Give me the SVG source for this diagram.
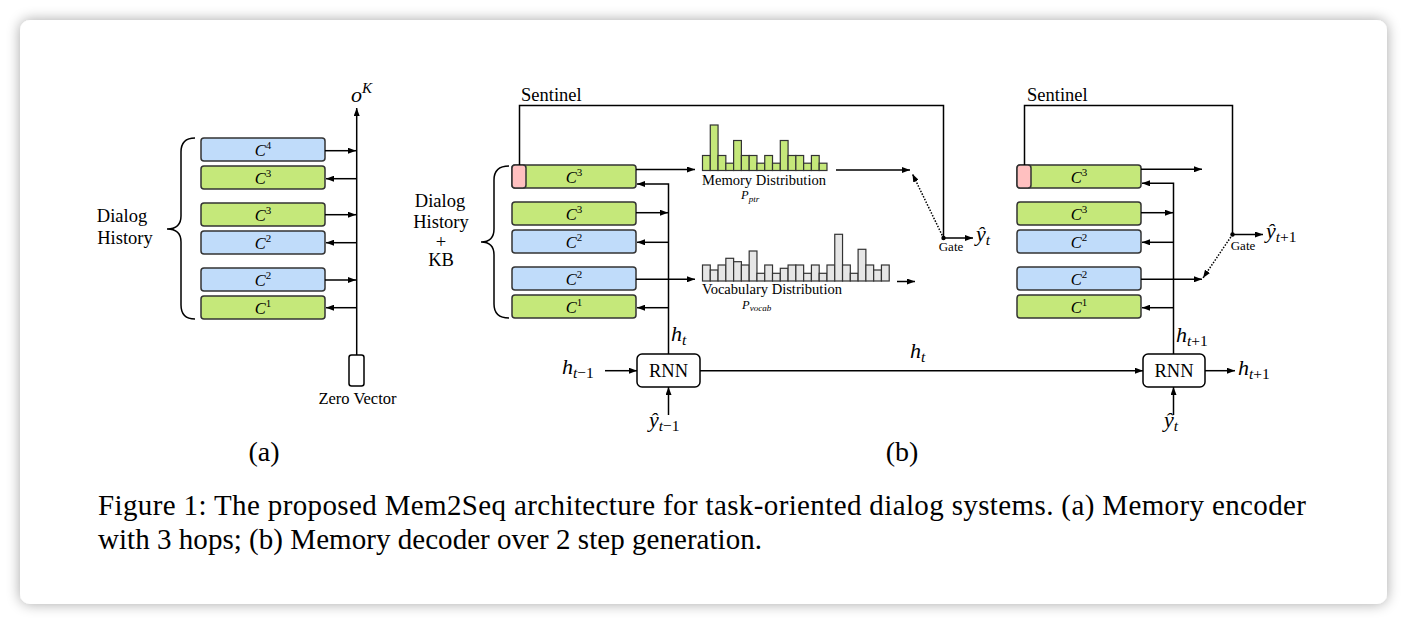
<svg xmlns="http://www.w3.org/2000/svg" width="1408" height="626" viewBox="0 0 1408 626">
<defs>
<filter id="sh" x="-5%" y="-5%" width="110%" height="110%">
<feGaussianBlur in="SourceAlpha" stdDeviation="7"/>
<feComponentTransfer><feFuncA type="linear" slope="0.35"/></feComponentTransfer>
<feMerge><feMergeNode/><feMergeNode in="SourceGraphic"/></feMerge>
</filter>
<marker id="ah" viewBox="0 0 8 6" refX="8" refY="3" markerWidth="8" markerHeight="6" markerUnits="userSpaceOnUse" orient="auto">
<path d="M0,0 L8,3 L0,6 z" fill="#000"/>
</marker>
</defs>
<style>
text{font-family:"Liberation Serif","Times New Roman",serif;fill:#000}
.g{fill:#c5e87a;stroke:#333;stroke-width:1.5}
.b{fill:#c0dcfa;stroke:#333;stroke-width:1.5}
.p{fill:#ffc0c0;stroke:#333;stroke-width:1.5}
.hg{fill:#c5e87a;stroke:#333;stroke-width:1.2}
.hv{fill:#e6e6e6;stroke:#333;stroke-width:1.2}
.ln{fill:none;stroke:#000;stroke-width:1.5}
.ar{fill:none;stroke:#000;stroke-width:1.5;marker-end:url(#ah)}
.dt{fill:none;stroke:#000;stroke-width:1.5;stroke-dasharray:1.5 1.5;marker-end:url(#ah)}
.br{fill:none;stroke:#000;stroke-width:1.5}
.rnn{fill:#fff;stroke:#000;stroke-width:1.5}
.ci{font-style:italic;font-size:16.5px}
.sup{font-style:normal;font-size:11px}
.m{font-style:italic;font-size:22px}
.sub{font-size:15.5px}
.lab{font-size:18.5px}
.cap{font-size:29px}
</style>
<rect x="0" y="0" width="1408" height="626" fill="#fff"/>
<rect x="20" y="20" width="1367" height="584" rx="10" fill="#fff" filter="url(#sh)"/>

<!-- Part (a) -->
<g id="a-boxes">
<g id="a-c4"><rect class="b" x="201" y="138" width="124" height="23" rx="3"/><text class="ci" x="263" y="155.5" text-anchor="middle">C<tspan class="sup" dy="-6.5">4</tspan></text></g>
<g id="a-c3a"><rect class="g" x="201" y="166" width="124" height="23" rx="3"/><text class="ci" x="263" y="183.5" text-anchor="middle">C<tspan class="sup" dy="-6.5">3</tspan></text></g>
<g id="a-c3b"><rect class="g" x="201" y="203" width="124" height="23" rx="3"/><text class="ci" x="263" y="220.5" text-anchor="middle">C<tspan class="sup" dy="-6.5">3</tspan></text></g>
<g id="a-c2a"><rect class="b" x="201" y="231" width="124" height="23" rx="3"/><text class="ci" x="263" y="248.5" text-anchor="middle">C<tspan class="sup" dy="-6.5">2</tspan></text></g>
<g id="a-c2b"><rect class="b" x="201" y="268" width="124" height="23" rx="3"/><text class="ci" x="263" y="285.5" text-anchor="middle">C<tspan class="sup" dy="-6.5">2</tspan></text></g>
<g id="a-c1"><rect class="g" x="201" y="296" width="124" height="23" rx="3"/><text class="ci" x="263" y="313.5" text-anchor="middle">C<tspan class="sup" dy="-6.5">1</tspan></text></g>
</g>
<g id="a-zero"><rect x="349" y="355" width="15" height="31" rx="2.5" fill="#fff" stroke="#000" stroke-width="1.5"/><text x="357.5" y="404" text-anchor="middle" font-size="16.5">Zero Vector</text></g>
<g id="a-history"><path class="br" d="M195,138 Q181,138 181,152 L181,216 Q181,229 167,229 Q181,229 181,242 L181,305 Q181,319 195,319"/><text class="lab" x="122" y="222" text-anchor="middle">Dialog</text><text class="lab" x="125" y="244" text-anchor="middle">History</text></g>
<g id="a-ok"><text class="m" x="351" y="102" font-size="23">o<tspan font-size="15" dy="-9">K</tspan></text></g>
<text x="264" y="461" text-anchor="middle" font-size="28">(a)</text>

<!-- Part (b) left -->
<g id="b1-boxes">
<g id="b1-c3s"><rect class="g" x="512" y="165" width="124" height="23" rx="3"/><rect class="p" x="512" y="165" width="14" height="23" rx="3"/><text class="ci" x="574" y="182.5" text-anchor="middle">C<tspan class="sup" dy="-6.5">3</tspan></text></g>
<g id="b1-c3"><rect class="g" x="512" y="202" width="124" height="23" rx="3"/><text class="ci" x="574" y="219.5" text-anchor="middle">C<tspan class="sup" dy="-6.5">3</tspan></text></g>
<g id="b1-c2a"><rect class="b" x="512" y="230" width="124" height="23" rx="3"/><text class="ci" x="574" y="247.5" text-anchor="middle">C<tspan class="sup" dy="-6.5">2</tspan></text></g>
<g id="b1-c2b"><rect class="b" x="512" y="267" width="124" height="23" rx="3"/><text class="ci" x="574" y="284.5" text-anchor="middle">C<tspan class="sup" dy="-6.5">2</tspan></text></g>
<g id="b1-c1"><rect class="g" x="512" y="295" width="124" height="23" rx="3"/><text class="ci" x="574" y="312.5" text-anchor="middle">C<tspan class="sup" dy="-6.5">1</tspan></text></g>
</g>
<g id="b1-history"><path class="br" d="M509,166 Q494,166 494,180 L494,229 Q494,242 481,242 Q494,242 494,255 L494,304 Q494,318 509,318"/>
<text class="lab" x="440" y="207" text-anchor="middle">Dialog</text><text class="lab" x="441" y="228" text-anchor="middle">History</text><text class="lab" x="441" y="248" text-anchor="middle">+</text><text class="lab" x="441" y="266" text-anchor="middle">KB</text></g>
<text class="lab" x="521" y="101">Sentinel</text>
<g id="b1-rnn"><rect class="rnn" x="637" y="354" width="63" height="33" rx="5"/><text class="lab" x="668.5" y="377" text-anchor="middle">RNN</text></g>

<g id="mem-dist">
<rect class="hg" x="702.5" y="155.5" width="7.78" height="15"/>
<rect class="hg" x="710.28" y="125" width="7.78" height="45.5"/>
<rect class="hg" x="718.06" y="155.5" width="7.78" height="15"/>
<rect class="hg" x="725.84" y="163.2" width="7.78" height="7.3"/>
<rect class="hg" x="733.62" y="140.5" width="7.78" height="30"/>
<rect class="hg" x="741.4" y="155.5" width="7.78" height="15"/>
<rect class="hg" x="749.18" y="155.5" width="7.78" height="15"/>
<rect class="hg" x="756.96" y="163.2" width="7.78" height="7.3"/>
<rect class="hg" x="764.74" y="155.5" width="7.78" height="15"/>
<rect class="hg" x="772.52" y="163.2" width="7.78" height="7.3"/>
<rect class="hg" x="780.3" y="140.5" width="7.78" height="30"/>
<rect class="hg" x="788.08" y="155.5" width="7.78" height="15"/>
<rect class="hg" x="795.86" y="155.5" width="7.78" height="15"/>
<rect class="hg" x="803.64" y="163.2" width="7.78" height="7.3"/>
<rect class="hg" x="811.42" y="155.5" width="7.78" height="15"/>
<rect class="hg" x="819.2" y="163.2" width="7.78" height="7.3"/>
<text x="702" y="184.5" font-size="14.5" textLength="124" lengthAdjust="spacingAndGlyphs">Memory Distribution</text>
<text x="741" y="199" font-style="italic" font-size="12.5">P<tspan font-size="9" dy="2.5">ptr</tspan></text>
</g>

<g id="vocab-dist">
<rect class="hv" x="702.5" y="265" width="7.78" height="16"/>
<rect class="hv" x="710.28" y="270" width="7.78" height="11"/>
<rect class="hv" x="718.06" y="265" width="7.78" height="16"/>
<rect class="hv" x="725.84" y="258.3" width="7.78" height="22.7"/>
<rect class="hv" x="733.62" y="261.7" width="7.78" height="19.3"/>
<rect class="hv" x="741.4" y="265" width="7.78" height="16"/>
<rect class="hv" x="749.18" y="251" width="7.78" height="30"/>
<rect class="hv" x="756.96" y="273.3" width="7.78" height="7.7"/>
<rect class="hv" x="764.74" y="265" width="7.78" height="16"/>
<rect class="hv" x="772.52" y="273.3" width="7.78" height="7.7"/>
<rect class="hv" x="780.3" y="268.3" width="7.78" height="12.7"/>
<rect class="hv" x="788.08" y="265" width="7.78" height="16"/>
<rect class="hv" x="795.86" y="265" width="7.78" height="16"/>
<rect class="hv" x="803.64" y="273.3" width="7.78" height="7.7"/>
<rect class="hv" x="811.42" y="265" width="7.78" height="16"/>
<rect class="hv" x="819.2" y="273.3" width="7.78" height="7.7"/>
<rect class="hv" x="826.98" y="265" width="7.78" height="16"/>
<rect class="hv" x="834.76" y="234.3" width="7.78" height="46.7"/>
<rect class="hv" x="842.54" y="265" width="7.78" height="16"/>
<rect class="hv" x="850.32" y="273.3" width="7.78" height="7.7"/>
<rect class="hv" x="858.1" y="249.3" width="7.78" height="31.7"/>
<rect class="hv" x="865.88" y="265" width="7.78" height="16"/>
<rect class="hv" x="873.66" y="270" width="7.78" height="11"/>
<rect class="hv" x="881.44" y="265" width="7.78" height="16"/>
<text x="702" y="294" font-size="14.5" textLength="140" lengthAdjust="spacingAndGlyphs">Vocabulary Distribution</text>
<text x="742" y="308.5" font-style="italic" font-size="12.5">P<tspan font-size="9" dy="2.5">vocab</tspan></text>
</g>

<g id="gate1"><circle cx="943.5" cy="238" r="2.2" fill="#000"/><text x="951" y="250.5" text-anchor="middle" font-size="13">Gate</text></g>

<!-- Part (b) right -->
<g id="b2-boxes">
<g id="b2-c3s"><rect class="g" x="1017" y="165" width="124" height="23" rx="3"/><rect class="p" x="1017" y="165" width="14" height="23" rx="3"/><text class="ci" x="1079" y="182.5" text-anchor="middle">C<tspan class="sup" dy="-6.5">3</tspan></text></g>
<g id="b2-c3"><rect class="g" x="1017" y="202" width="124" height="23" rx="3"/><text class="ci" x="1079" y="219.5" text-anchor="middle">C<tspan class="sup" dy="-6.5">3</tspan></text></g>
<g id="b2-c2a"><rect class="b" x="1017" y="230" width="124" height="23" rx="3"/><text class="ci" x="1079" y="247.5" text-anchor="middle">C<tspan class="sup" dy="-6.5">2</tspan></text></g>
<g id="b2-c2b"><rect class="b" x="1017" y="267" width="124" height="23" rx="3"/><text class="ci" x="1079" y="284.5" text-anchor="middle">C<tspan class="sup" dy="-6.5">2</tspan></text></g>
<g id="b2-c1"><rect class="g" x="1017" y="295" width="124" height="23" rx="3"/><text class="ci" x="1079" y="312.5" text-anchor="middle">C<tspan class="sup" dy="-6.5">1</tspan></text></g>
</g>
<text class="lab" x="1027" y="101">Sentinel</text>
<g id="b2-rnn"><rect class="rnn" x="1143" y="354" width="62" height="33" rx="5"/><text class="lab" x="1174" y="377" text-anchor="middle">RNN</text></g>
<g id="gate2"><circle cx="1232.5" cy="234.5" r="2.2" fill="#000"/><text x="1243" y="249.5" text-anchor="middle" font-size="13">Gate</text></g>

<!-- connectors -->
<g id="connectors">
<path class="ar" d="M356.7,355 L356.7,108"/>
<path class="ar" d="M325,150.7 L356,150.7"/>
<path class="ar" d="M356.7,178.7 L326,178.7"/>
<path class="ar" d="M325,214.7 L356,214.7"/>
<path class="ar" d="M356.7,242.7 L326,242.7"/>
<path class="ar" d="M325,280 L356,280"/>
<path class="ar" d="M356.7,307.7 L326,307.7"/>
<path class="ln" d="M519.5,165 L519.5,105.5 L943.5,105.5 L943.5,238"/>
<path class="ar" d="M943.5,238 L973,238"/>
<path class="ar" d="M636,169.5 L695,169.5"/>
<path class="ar" d="M668.5,354 L668.5,184 L637,184"/>
<path class="ar" d="M636,212.7 L668,212.7"/>
<path class="ar" d="M668.5,242.3 L637,242.3"/>
<path class="ar" d="M636,279.3 L695,279.3"/>
<path class="ar" d="M668.5,307.7 L637,307.7"/>
<path class="ar" d="M836,170 L910,170"/>
<path class="ar" d="M897,281.5 L915,281.5"/>
<path class="dt" d="M943.5,238 L912.5,174"/>
<path class="ar" d="M605,370.7 L637,370.7"/>
<path class="ar" d="M668.5,415 L668.5,387"/>
<path class="ar" d="M700,370.7 L1143,370.7"/>
<path class="ln" d="M1024.5,165 L1024.5,105.5 L1232.5,105.5 L1232.5,234.5"/>
<path class="ar" d="M1232.5,234.5 L1263,234.5"/>
<path class="ar" d="M1141,169.3 L1202,169.3"/>
<path class="ar" d="M1173.5,354 L1173.5,183.3 L1142,183.3"/>
<path class="ar" d="M1141,212.7 L1173,212.7"/>
<path class="ar" d="M1173.5,242.3 L1142,242.3"/>
<path class="ar" d="M1141,279.3 L1202,279.3"/>
<path class="ar" d="M1173.5,307.7 L1142,307.7"/>
<path class="dt" d="M1232.5,234.5 L1203,278"/>
<path class="ar" d="M1205,370.7 L1235,370.7"/>
<path class="ar" d="M1173.5,415 L1173.5,387"/>
</g>

<!-- math labels -->
<text class="m" x="671" y="341">h<tspan class="sub" dy="4">t</tspan></text>
<text class="m" x="562" y="374">h<tspan class="sub" dy="4">t</tspan><tspan class="sub" font-style="normal">−1</tspan></text>
<text class="m" x="649" y="427">ŷ<tspan class="sub" dy="4">t</tspan><tspan class="sub" font-style="normal">−1</tspan></text>
<text class="m" x="910" y="358">h<tspan class="sub" dy="4">t</tspan></text>
<text class="m" x="976" y="241">ŷ<tspan class="sub" dy="4">t</tspan></text>
<text class="m" x="1266" y="238">ŷ<tspan class="sub" dy="4">t</tspan><tspan class="sub" font-style="normal">+1</tspan></text>
<text class="m" x="1176" y="342">h<tspan class="sub" dy="4">t</tspan><tspan class="sub" font-style="normal">+1</tspan></text>
<text class="m" x="1238" y="375">h<tspan class="sub" dy="4">t</tspan><tspan class="sub" font-style="normal">+1</tspan></text>
<text class="m" x="1164" y="427">ŷ<tspan class="sub" dy="4">t</tspan></text>
<text x="902" y="461" text-anchor="middle" font-size="28">(b)</text>

<!-- caption -->
<text class="cap" x="98" y="515" textLength="1208" lengthAdjust="spacing">Figure 1: The proposed Mem2Seq architecture for task-oriented dialog systems.  (a) Memory encoder</text>
<text class="cap" x="98" y="549" textLength="664" lengthAdjust="spacing">with 3 hops; (b) Memory decoder over 2 step generation.</text>
</svg>
